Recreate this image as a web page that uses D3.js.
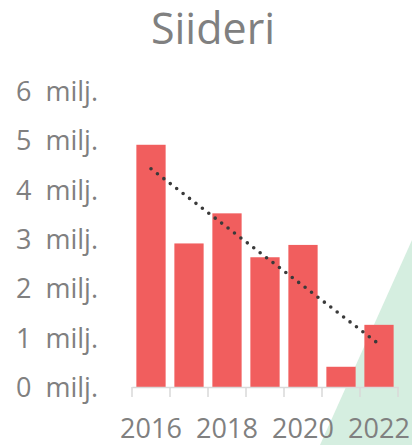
<!DOCTYPE html>
<html>
<head>
<meta charset="utf-8">
<script src="https://cdn.jsdelivr.net/npm/d3@7"></script>
<style>
  body { margin: 0; background: #fff; }
  svg text { font-family: "Open Sans", sans-serif; fill: #808080; }
</style>
</head>
<body>
<script>
var years = [2016, 2017, 2018, 2019, 2020, 2021, 2022];
var values = [4.91, 2.91, 3.52, 2.63, 2.88, 0.41, 1.26]; // miljoonaa
var yTicks = [0, 1, 2, 3, 4, 5, 6];
var xLabels = [2016, 2018, 2020, 2022];

var w = 412, h = 445;

var svg = d3.select("body").append("svg")
    .attr("width", w)
    .attr("height", h);

// vaalea vihreä kolmio taustalla
svg.append("polygon")
    .attr("points", [[412, 240], [320, 445], [412, 445]].join(" "))
    .style("fill", "#d5eee0");

var x = d3.scaleBand()
    .domain(years)
    .range([132, 398])
    .paddingInner(0.23)
    .paddingOuter(0.115);

var y = d3.scaleLinear()
    .domain([0, 6])
    .range([387, 91]);

svg.append("text")
    .attr("x", 213)
    .attr("y", 44)
    .attr("text-anchor", "middle")
    .style("font-size", "43px")
    .text("Siideri");

svg.selectAll("rect.bar")
    .data(values)
    .enter()
    .append("rect")
    .attr("class", "bar")
    .attr("x", function(d, i){ return x(years[i]); })
    .attr("y", function(d){ return y(d); })
    .attr("width", x.bandwidth())
    .attr("height", function(d){ return y(0) - y(d); })
    .style("fill", "#f15e5e");

// y-akselin tekstit
svg.selectAll("text.ylab")
    .data(yTicks)
    .enter()
    .append("text")
    .attr("class", "ylab")
    .attr("x", 16)
    .attr("y", function(d){ return y(d) + 10; })
    .style("font-size", "27px")
    .text(function(d){ return d + "\u00a0 milj."; });

// x-akseli
var xAxis = d3.axisBottom(x).tickValues([]).tickSizeOuter(0);
var gx = svg.append("g").attr("transform", "translate(0," + y(0) + ")").call(xAxis);
gx.select(".domain").style("stroke", "#d9d9d9").style("stroke-width", 1.5);

var bounds = x.domain().map(function(d){ return x(d) - x.step() * x.paddingInner() / 2; });
bounds.push(398);
bounds[0] = 132;
gx.selectAll("line.tk")
    .data(bounds)
    .enter()
    .append("line")
    .attr("class", "tk")
    .attr("x1", function(d){ return d; })
    .attr("x2", function(d){ return d; })
    .attr("y1", 0)
    .attr("y2", 10)
    .style("stroke", "#d9d9d9")
    .style("stroke-width", 1.5);

svg.selectAll("text.xlab")
    .data(xLabels)
    .enter()
    .append("text")
    .attr("class", "xlab")
    .attr("x", function(d){ return x(d) + x.bandwidth() / 2; })
    .attr("y", 438)
    .attr("text-anchor", "middle")
    .style("font-size", "27px")
    .text(function(d){ return d; });

// lineaarinen trendiviiva
var n = values.length;
var mx = d3.mean(d3.range(n)), my = d3.mean(values);
var slope = d3.sum(d3.range(n), function(i){ return (i - mx) * (values[i] - my); }) /
            d3.sum(d3.range(n), function(i){ return (i - mx) * (i - mx); });
var icpt = my - slope * mx;

svg.append("line")
    .attr("x1", x(years[0]) + x.bandwidth() / 2)
    .attr("y1", y(icpt))
    .attr("x2", x(years[n - 1]) + x.bandwidth() / 2)
    .attr("y2", y(icpt + slope * (n - 1)))
    .style("stroke", "#3a3a3a")
    .style("stroke-width", 3.6)
    .style("stroke-linecap", "round")
    .style("stroke-dasharray", "0 8.1");
</script>
</body>
</html>
